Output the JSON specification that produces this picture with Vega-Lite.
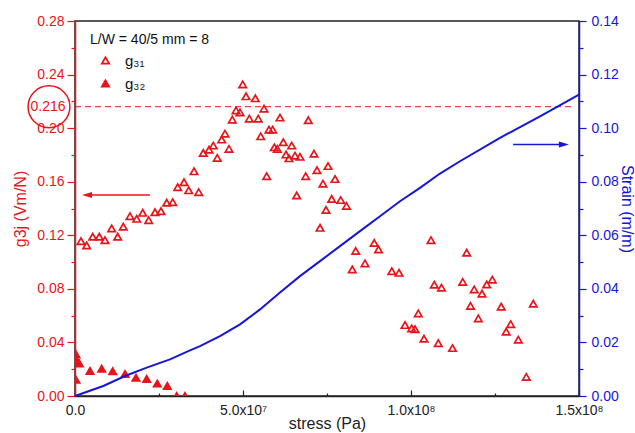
{
  "$schema": "https://vega.github.io/schema/vega-lite/v6.json",
  "width": 504,
  "height": 375,
  "autosize": "none",
  "padding": {"left": 75, "top": 21, "right": 56, "bottom": 37},
  "background": "white",
  "config": {
    "font": "Liberation Sans",
    "view": {"stroke": "#222", "strokeWidth": 1.5},
    "axis": {"grid": false, "labelFontSize": 14, "titleFontSize": 16, "titleFontWeight": "normal", "labelFlush": false, "labelOverlap": false, "labelBound": false}
  },
  "datasets": {
    "g": [
      {"stress": 1.79e6, "g": 0.1156, "series": "g₃₁"},
      {"stress": 3.48e6, "g": 0.1124, "series": "g₃₁"},
      {"stress": 5.27e6, "g": 0.1189, "series": "g₃₁"},
      {"stress": 7.23e6, "g": 0.1189, "series": "g₃₁"},
      {"stress": 8.93e6, "g": 0.1164, "series": "g₃₁"},
      {"stress": 10.92e6, "g": 0.1251, "series": "g₃₁"},
      {"stress": 12.71e6, "g": 0.1189, "series": "g₃₁"},
      {"stress": 14.37e6, "g": 0.1264, "series": "g₃₁"},
      {"stress": 16.37e6, "g": 0.1343, "series": "g₃₁"},
      {"stress": 18.36e6, "g": 0.1323, "series": "g₃₁"},
      {"stress": 20.15e6, "g": 0.1368, "series": "g₃₁"},
      {"stress": 21.93e6, "g": 0.1313, "series": "g₃₁"},
      {"stress": 23.81e6, "g": 0.1372, "series": "g₃₁"},
      {"stress": 25.60e6, "g": 0.1380, "series": "g₃₁"},
      {"stress": 27.29e6, "g": 0.1443, "series": "g₃₁"},
      {"stress": 29.08e6, "g": 0.1447, "series": "g₃₁"},
      {"stress": 30.57e6, "g": 0.1559, "series": "g₃₁"},
      {"stress": 32.44e6, "g": 0.1596, "series": "g₃₁"},
      {"stress": 33.84e6, "g": 0.1536, "series": "g₃₁"},
      {"stress": 35.42e6, "g": 0.1678, "series": "g₃₁"},
      {"stress": 36.82e6, "g": 0.1522, "series": "g₃₁"},
      {"stress": 38.18e6, "g": 0.1815, "series": "g₃₁"},
      {"stress": 39.88e6, "g": 0.1840, "series": "g₃₁"},
      {"stress": 41.16e6, "g": 0.1870, "series": "g₃₁"},
      {"stress": 42.35e6, "g": 0.1778, "series": "g₃₁"},
      {"stress": 43.66e6, "g": 0.1915, "series": "g₃₁"},
      {"stress": 44.64e6, "g": 0.1959, "series": "g₃₁"},
      {"stress": 45.83e6, "g": 0.1845, "series": "g₃₁"},
      {"stress": 46.82e6, "g": 0.2064, "series": "g₃₁"},
      {"stress": 47.92e6, "g": 0.2133, "series": "g₃₁"},
      {"stress": 49.11e6, "g": 0.2118, "series": "g₃₁"},
      {"stress": 49.91e6, "g": 0.2327, "series": "g₃₁"},
      {"stress": 50.89e6, "g": 0.2238, "series": "g₃₁"},
      {"stress": 51.88e6, "g": 0.2071, "series": "g₃₁"},
      {"stress": 53.66e6, "g": 0.2223, "series": "g₃₁"},
      {"stress": 54.55e6, "g": 0.2071, "series": "g₃₁"},
      {"stress": 56.25e6, "g": 0.2146, "series": "g₃₁"},
      {"stress": 55.27e6, "g": 0.1939, "series": "g₃₁"},
      {"stress": 57.05e6, "g": 0.1641, "series": "g₃₁"},
      {"stress": 57.74e6, "g": 0.1989, "series": "g₃₁"},
      {"stress": 58.84e6, "g": 0.1989, "series": "g₃₁"},
      {"stress": 61.01e6, "g": 0.2079, "series": "g₃₁"},
      {"stress": 59.32e6, "g": 0.1857, "series": "g₃₁"},
      {"stress": 60.21e6, "g": 0.1845, "series": "g₃₁"},
      {"stress": 61.99e6, "g": 0.1895, "series": "g₃₁"},
      {"stress": 64.49e6, "g": 0.1870, "series": "g₃₁"},
      {"stress": 62.80e6, "g": 0.1803, "series": "g₃₁"},
      {"stress": 63.69e6, "g": 0.1775, "series": "g₃₁"},
      {"stress": 65.48e6, "g": 0.1795, "series": "g₃₁"},
      {"stress": 66.96e6, "g": 0.1786, "series": "g₃₁"},
      {"stress": 65.98e6, "g": 0.1497, "series": "g₃₁"},
      {"stress": 69.44e6, "g": 0.2059, "series": "g₃₁"},
      {"stress": 71.13e6, "g": 0.1810, "series": "g₃₁"},
      {"stress": 68.66e6, "g": 0.1642, "series": "g₃₁"},
      {"stress": 72.02e6, "g": 0.1686, "series": "g₃₁"},
      {"stress": 73.81e6, "g": 0.1586, "series": "g₃₁"},
      {"stress": 75.30e6, "g": 0.1717, "series": "g₃₁"},
      {"stress": 77.38e6, "g": 0.1620, "series": "g₃₁"},
      {"stress": 76.40e6, "g": 0.1471, "series": "g₃₁"},
      {"stress": 79.08e6, "g": 0.1463, "series": "g₃₁"},
      {"stress": 80.80e6, "g": 0.1420, "series": "g₃₁"},
      {"stress": 74.70e6, "g": 0.1389, "series": "g₃₁"},
      {"stress": 72.92e6, "g": 0.1256, "series": "g₃₁"},
      {"stress": 83.54e6, "g": 0.1083, "series": "g₃₁"},
      {"stress": 82.53e6, "g": 0.0945, "series": "g₃₁"},
      {"stress": 86.31e6, "g": 0.0990, "series": "g₃₁"},
      {"stress": 89.05e6, "g": 0.1143, "series": "g₃₁"},
      {"stress": 90.33e6, "g": 0.1094, "series": "g₃₁"},
      {"stress": 94.29e6, "g": 0.0932, "series": "g₃₁"},
      {"stress": 96.43e6, "g": 0.0920, "series": "g₃₁"},
      {"stress": 105.95e6, "g": 0.1164, "series": "g₃₁"},
      {"stress": 102.17e6, "g": 0.0617, "series": "g₃₁"},
      {"stress": 98.21e6, "g": 0.0530, "series": "g₃₁"},
      {"stress": 100.21e6, "g": 0.0505, "series": "g₃₁"},
      {"stress": 101.19e6, "g": 0.0499, "series": "g₃₁"},
      {"stress": 103.87e6, "g": 0.0428, "series": "g₃₁"},
      {"stress": 106.94e6, "g": 0.0831, "series": "g₃₁"},
      {"stress": 109.08e6, "g": 0.0809, "series": "g₃₁"},
      {"stress": 108.13e6, "g": 0.0395, "series": "g₃₁"},
      {"stress": 112.35e6, "g": 0.0358, "series": "g₃₁"},
      {"stress": 116.58e6, "g": 0.1070, "series": "g₃₁"},
      {"stress": 115.39e6, "g": 0.0852, "series": "g₃₁"},
      {"stress": 117.71e6, "g": 0.0673, "series": "g₃₁"},
      {"stress": 118.81e6, "g": 0.0796, "series": "g₃₁"},
      {"stress": 120.03e6, "g": 0.0580, "series": "g₃₁"},
      {"stress": 121.13e6, "g": 0.0764, "series": "g₃₁"},
      {"stress": 122.53e6, "g": 0.0833, "series": "g₃₁"},
      {"stress": 124.20e6, "g": 0.0869, "series": "g₃₁"},
      {"stress": 126.85e6, "g": 0.0667, "series": "g₃₁"},
      {"stress": 128.33e6, "g": 0.0481, "series": "g₃₁"},
      {"stress": 129.67e6, "g": 0.0537, "series": "g₃₁"},
      {"stress": 131.94e6, "g": 0.0421, "series": "g₃₁"},
      {"stress": 134.32e6, "g": 0.0143, "series": "g₃₁"},
      {"stress": 136.40e6, "g": 0.0689, "series": "g₃₁"},
      {"stress": 0.30e6, "g": 0.0311, "series": "g₃₂"},
      {"stress": 0.68e6, "g": 0.0261, "series": "g₃₂"},
      {"stress": 1.28e6, "g": 0.0244, "series": "g₃₂"},
      {"stress": 0.30e6, "g": 0.0121, "series": "g₃₂"},
      {"stress": 4.46e6, "g": 0.0188, "series": "g₃₂"},
      {"stress": 7.95e6, "g": 0.0204, "series": "g₃₂"},
      {"stress": 11.22e6, "g": 0.0186, "series": "g₃₂"},
      {"stress": 14.88e6, "g": 0.0164, "series": "g₃₂"},
      {"stress": 18.15e6, "g": 0.0137, "series": "g₃₂"},
      {"stress": 21.34e6, "g": 0.0128, "series": "g₃₂"},
      {"stress": 24.49e6, "g": 0.0093, "series": "g₃₂"},
      {"stress": 27.47e6, "g": 0.0075, "series": "g₃₂"},
      {"stress": 30.27e6, "g": 0.0, "series": "g₃₂"},
      {"stress": 32.74e6, "g": 0.0, "series": "g₃₂"}
    ],
    "strain": [
      {"stress": 0, "strain": 0},
      {"stress": 8.42e6, "strain": 0.00373},
      {"stress": 14.88e6, "strain": 0.00746},
      {"stress": 21.34e6, "strain": 0.01059},
      {"stress": 28.27e6, "strain": 0.01369},
      {"stress": 33.72e6, "strain": 0.01678},
      {"stress": 37.20e6, "strain": 0.01865},
      {"stress": 43.15e6, "strain": 0.02238},
      {"stress": 49.11e6, "strain": 0.02674},
      {"stress": 55.06e6, "strain": 0.03233},
      {"stress": 61.01e6, "strain": 0.0386},
      {"stress": 66.96e6, "strain": 0.04475},
      {"stress": 72.92e6, "strain": 0.05035},
      {"stress": 78.87e6, "strain": 0.05594},
      {"stress": 84.82e6, "strain": 0.06154},
      {"stress": 90.77e6, "strain": 0.06713},
      {"stress": 96.73e6, "strain": 0.07272},
      {"stress": 102.68e6, "strain": 0.07772},
      {"stress": 108.63e6, "strain": 0.08305},
      {"stress": 114.58e6, "strain": 0.08764},
      {"stress": 126.49e6, "strain": 0.09637},
      {"stress": 138.39e6, "strain": 0.10442},
      {"stress": 150.0e6, "strain": 0.1125}
    ]
  },
  "layer": [
    {
      "layer": [
        {
          "data": {"values": [{}]},
          "mark": {"type": "rule", "color": "#e8141a", "strokeDash": [6, 4], "strokeWidth": 1},
          "encoding": {
            "x": {"datum": 0, "type": "quantitative"},
            "x2": {"datum": 1.481e8},
            "y": {"datum": 0.216, "type": "quantitative"}
          }
        },
        {
          "data": {"name": "g"},
          "mark": {"type": "point", "shape": "triangle-up", "size": 55, "filled": true, "stroke": "#e8141a", "strokeWidth": 1.7, "opacity": 1, "clip": true},
          "encoding": {
            "x": {
              "field": "stress", "type": "quantitative",
              "scale": {"domain": [0, 1.5e8], "nice": false, "zero": false},
              "axis": {
                "orient": "bottom", "values": [0, 5e7, 1e8, 1.5e8],
                "labelExpr": "datum.value == 0 ? '0.0' : datum.value == 5e7 ? '5.0x10⁷' : datum.value == 1e8 ? '1.0x10⁸' : '1.5x10⁸'",
                "tickSize": -6, "tickColor": "#222", "tickWidth": 1.2,
                "domainColor": "#222", "domainWidth": 1.5,
                "labelColor": "#222", "labelPadding": 13,
                "title": "stress (Pa)", "titleColor": "#222", "titleY": 32, "titleBaseline": "alphabetic"
              }
            },
            "y": {
              "field": "g", "type": "quantitative",
              "scale": {"domain": [0, 0.28], "nice": false, "zero": false},
              "axis": {
                "orient": "left", "values": [0, 0.04, 0.08, 0.12, 0.16, 0.2, 0.24, 0.28], "format": ".2f",
                "tickSize": 8, "tickColor": "#e8141a", "tickWidth": 1.2,
                "domainColor": "#e8141a", "domainWidth": 1.5,
                "labelColor": "#e8141a", "labelPadding": 3,
                "title": "g3j (Vm/N)", "titleColor": "#e8141a", "titlePadding": 8
              }
            },
            "fill": {
              "field": "series", "type": "nominal",
              "scale": {"domain": ["g₃₁", "g₃₂"], "range": ["transparent", "#e8141a"]},
              "legend": {
                "orient": "none", "legendX": 15, "legendY": 12,
                "title": "L/W = 40/5 mm = 8", "titleFontSize": 14, "titleFontWeight": "normal", "titleColor": "#111", "titlePadding": 6,
                "labelFontSize": 15, "labelColor": "#111", "labelOffset": 12,
                "symbolType": "triangle-up", "symbolSize": 55, "symbolStrokeColor": "#e8141a", "symbolStrokeWidth": 1.7, "symbolOpacity": 1,
                "symbolOffset": 8, "rowPadding": 7
              }
            }
          }
        },
        {
          "data": {"values": [{}]},
          "mark": {"type": "rule", "color": "#e8141a", "strokeWidth": 1.5},
          "encoding": {
            "x": {"datum": 3.6e6, "type": "quantitative"},
            "x2": {"datum": 2.23e7},
            "y": {"datum": 0.15, "type": "quantitative"}
          }
        },
        {
          "data": {"values": [{}]},
          "mark": {"type": "point", "shape": "M-1,0L1,-0.6L1,0.6Z", "size": 100, "filled": true, "color": "#e8141a", "opacity": 1},
          "encoding": {
            "x": {"datum": 3.57e6, "type": "quantitative"},
            "y": {"datum": 0.15, "type": "quantitative"}
          }
        },
        {
          "data": {"values": [{}]},
          "mark": {"type": "text", "fontSize": 14, "color": "#e8141a", "align": "center", "baseline": "middle"},
          "encoding": {
            "x": {"datum": -8.04e6, "type": "quantitative"},
            "y": {"datum": 0.216, "type": "quantitative"},
            "text": {"value": "0.216"}
          }
        },
        {
          "data": {"values": [{}]},
          "mark": {"type": "point", "shape": "circle", "size": 1750, "filled": false, "stroke": "#e8141a", "strokeWidth": 1.5, "opacity": 1},
          "encoding": {
            "x": {"datum": -7.74e6, "type": "quantitative"},
            "y": {"datum": 0.216, "type": "quantitative"}
          }
        }
      ]
    },
    {
      "data": {"values": [{}]},
      "mark": {"type": "point", "opacity": 0},
      "encoding": {
        "x": {
          "datum": 0, "type": "quantitative",
          "scale": {"domain": [0, 1.5e8], "nice": false, "zero": false},
          "axis": {"orient": "bottom", "values": [2.5e7, 7.5e7, 1.25e8], "tickSize": -3, "tickColor": "#222", "tickWidth": 1.2, "labels": false, "domain": false, "title": null}
        },
        "y": {
          "datum": 0, "type": "quantitative",
          "scale": {"domain": [0, 0.28], "nice": false, "zero": false},
          "axis": {"orient": "left", "values": [0.02, 0.06, 0.1, 0.14, 0.18, 0.22, 0.26], "tickSize": 4, "tickColor": "#e8141a", "tickWidth": 1.2, "labels": false, "domain": false, "title": null}
        }
      }
    },
    {
      "layer": [
        {
          "data": {"name": "strain"},
          "mark": {"type": "line", "color": "#1616d8", "strokeWidth": 2},
          "encoding": {
            "x": {"field": "stress", "type": "quantitative", "scale": {"domain": [0, 1.5e8], "nice": false, "zero": false}, "axis": null},
            "y": {
              "field": "strain", "type": "quantitative",
              "scale": {"domain": [0, 0.14], "nice": false, "zero": false},
              "axis": {
                "orient": "right", "values": [0, 0.02, 0.04, 0.06, 0.08, 0.1, 0.12, 0.14], "format": ".2f",
                "tickSize": 7, "tickColor": "#1616d8", "tickWidth": 1.2,
                "domainColor": "#1616d8", "domainWidth": 1.5,
                "labelColor": "#1616d8", "labelPadding": 5,
                "title": "Strain (m/m)", "titleColor": "#1616d8", "titlePadding": 0
              }
            }
          }
        },
        {
          "data": {"values": [{}]},
          "mark": {"type": "rule", "color": "#1616d8", "strokeWidth": 1.5},
          "encoding": {
            "x": {"datum": 1.304e8, "type": "quantitative"},
            "x2": {"datum": 1.453e8},
            "y": {"datum": 0.0939, "type": "quantitative"}
          }
        },
        {
          "data": {"values": [{}]},
          "mark": {"type": "point", "shape": "M1,0L-1,-0.6L-1,0.6Z", "size": 100, "filled": true, "color": "#1616d8", "opacity": 1},
          "encoding": {
            "x": {"datum": 1.455e8, "type": "quantitative"},
            "y": {"datum": 0.0939, "type": "quantitative"}
          }
        }
      ]
    },
    {
      "data": {"values": [{}]},
      "mark": {"type": "point", "opacity": 0},
      "encoding": {
        "y": {
          "datum": 0, "type": "quantitative",
          "scale": {"domain": [0, 0.14], "nice": false, "zero": false},
          "axis": {"orient": "right", "values": [0.01, 0.03, 0.05, 0.07, 0.09, 0.11, 0.13], "tickSize": 4, "tickColor": "#1616d8", "tickWidth": 1.2, "labels": false, "domain": false, "title": null}
        }
      }
    }
  ],
  "resolve": {
    "scale": {"x": "independent", "y": "independent"},
    "axis": {"x": "independent", "y": "independent"}
  }
}
